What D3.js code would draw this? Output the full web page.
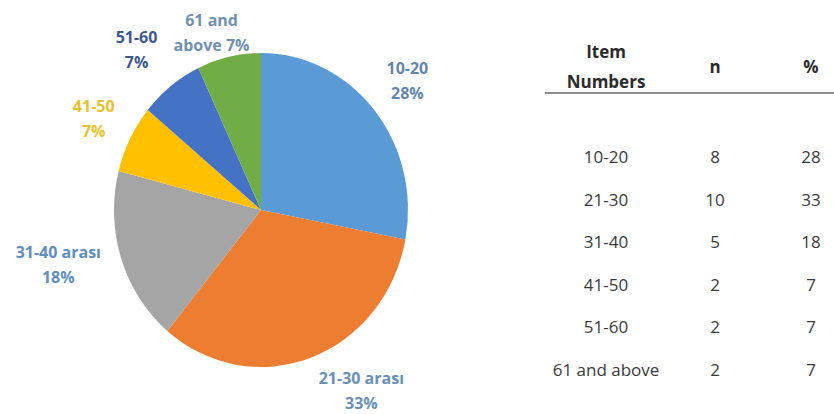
<!DOCTYPE html>
<html>
<head>
<meta charset="utf-8">
<script src="https://cdn.jsdelivr.net/npm/d3@7"></script>
<style>
  body { margin: 0; background: #ffffff; }
</style>
</head>
<body>
<div id="chart"></div>
<script>
// data
let categories = ["10-20", "21-30", "31-40", "41-50", "51-60", "61 and above"];
let nValues = [8, 10, 5, 2, 2, 2];
let percents = [28, 33, 18, 7, 7, 7];
let pieLabels = [
    ["10-20", "28%"],
    ["21-30 arası", "33%"],
    ["31-40 arası", "18%"],
    ["41-50", "7%"],
    ["51-60", "7%"],
    ["61 and", "above 7%"]
];
let headers = [["Item", "Numbers"], ["n"], ["%"]];

let width = 834;
let height = 414;

let sliceColors = ["#5b9bd5", "#ed7d31", "#a5a5a5", "#ffc000", "#4472c4", "#70ad47"];
let labelColors = ["#6486ab", "#6a8fb8", "#5f8ec0", "#e8c12a", "#3d5a8c", "#7090b0"];
// small nudges so labels sit where excel put them
let labelNudge = [[0, 0], [36, -10], [-22, -8], [2, 1], [-8, 0], [-8, 21]];

let svg = d3.select("#chart")
    .append("svg")
    .attr("width", width)
    .attr("height", height);

// ---- pie ----
let cx = 261, cy = 210;
let radius = 147;
let squash = 1.068;   // the pie in the picture is a bit taller than wide

let pie = d3.pie().sort(null).value(function(d) { return d; });
let arcs = pie(percents);

let arc = d3.arc().innerRadius(0).outerRadius(radius);
let labelArc = d3.arc().innerRadius(190).outerRadius(190);

svg.append("g")
    .attr("transform", "translate(" + cx + "," + cy + ") scale(1," + squash + ")")
    .selectAll("path")
    .data(arcs)
    .enter()
    .append("path")
    .attr("d", arc)
    .attr("fill", function(d, i) { return sliceColors[i]; });

let lineGap = 25;
let labels = svg.append("g")
    .selectAll(".pie-label")
    .data(arcs)
    .enter()
    .append("text")
    .attr("class", "pie-label")
    .attr("text-anchor", "middle")
    .style("font-family", "'Open Sans', sans-serif")
    .style("font-size", "16px")
    .style("font-weight", "bold")
    .style("fill", function(d, i) { return labelColors[i]; })
    .attr("transform", function(d, i) {
        let c = labelArc.centroid(d);
        let x = cx + c[0] + labelNudge[i][0];
        let y = cy + c[1] * squash + labelNudge[i][1];
        return "translate(" + x + "," + y + ")";
    });

labels.selectAll("tspan")
    .data(function(d, i) { return pieLabels[i]; })
    .enter()
    .append("tspan")
    .attr("x", 0)
    .attr("y", function(d, j, nodes) { return (j - (nodes.length - 1) / 2) * lineGap; })
    .attr("dy", "0.35em")
    .text(function(d) { return d; });

// ---- table ----
let colX = [606, 715, 811];
let rowY = d3.scalePoint()
    .domain(categories)
    .range([157, 370]);

let headG = svg.append("g");
headers.forEach(function(lines, c) {
    let t = headG.append("text")
        .attr("text-anchor", "middle")
        .attr("transform", "translate(" + colX[c] + ",67)")
        .style("font-family", "'Open Sans', sans-serif")
        .style("font-size", "17px")
        .style("font-weight", "bold")
        .style("fill", "#2b2b2b");
    lines.forEach(function(s, j) {
        t.append("tspan")
            .attr("x", 0)
            .attr("y", (j - (lines.length - 1) / 2) * 30)
            .attr("dy", "0.35em")
            .text(s);
    });
});

svg.append("line")
    .attr("x1", 545)
    .attr("x2", width)
    .attr("y1", 93)
    .attr("y2", 93)
    .attr("stroke", "#8e8e8e")
    .attr("stroke-width", 2);

let rows = svg.append("g")
    .selectAll(".row")
    .data(categories)
    .enter()
    .append("g")
    .attr("class", "row")
    .attr("transform", function(d) { return "translate(0," + rowY(d) + ")"; });

let cellText = function(sel, x, fn) {
    sel.append("text")
        .attr("x", x)
        .attr("dy", "0.35em")
        .attr("text-anchor", "middle")
        .style("font-family", "'Open Sans', sans-serif")
        .style("font-size", "17px")
        .style("fill", "#3a3a3a")
        .text(fn);
};

cellText(rows, colX[0], function(d) { return d; });
cellText(rows, colX[1], function(d, i) { return nValues[i]; });
cellText(rows, colX[2], function(d, i) { return percents[i]; });
</script>
</body>
</html>
